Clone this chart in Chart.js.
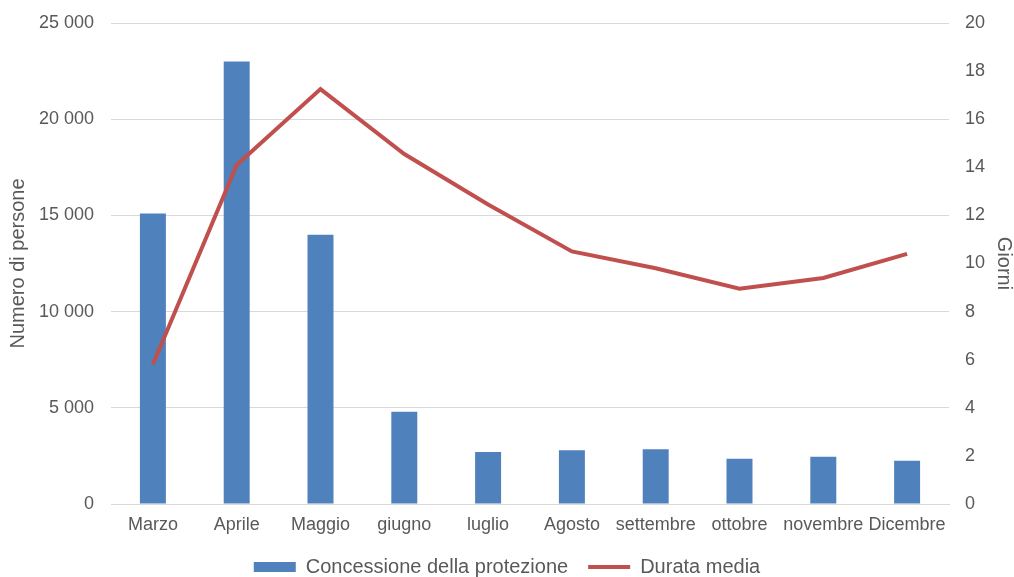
<!DOCTYPE html>
<html>
<head>
<meta charset="utf-8">
<script src="https://cdn.jsdelivr.net/npm/chart.js@4.4.0/dist/chart.umd.min.js"></script>
<style>
  html, body { margin: 0; padding: 0; background: #fff; }
  #wrap { width: 1014px; height: 577px; }
</style>
</head>
<body>
<div id="wrap"><canvas id="chart" width="1014" height="577"></canvas></div>
<script>
const months = ['Marzo', 'Aprile', 'Maggio', 'giugno', 'luglio', 'Agosto', 'settembre', 'ottobre', 'novembre', 'Dicembre'];
const persone = [15100, 23000, 14000, 4800, 2700, 2800, 2850, 2350, 2450, 2250];
const durata = [5.8, 14.1, 17.25, 14.55, 12.45, 10.5, 9.8, 8.95, 9.4, 10.4];

const grey = '#595959';
const font = 'Arial, "Liberation Sans", sans-serif';

function spaced(v) {
  return String(v).replace(/\B(?=(\d{3})+(?!\d))/g, ' ');
}

// vertical axes: fixed widths and top spacing like the original
function fixAxis(width) {
  return s => {
    s.width = width;
    s.paddingTop = 23;
    s.paddingBottom = 0;
  };
}

new Chart(document.getElementById('chart'), {
  data: {
    labels: months,
    datasets: [{
      type: 'line',
      label: 'Durata media',
      data: durata,
      yAxisID: 'y1',
      borderColor: '#C0504D',
      backgroundColor: '#C0504D',
      borderWidth: 4,
      pointRadius: 0,
      pointStyle: 'line',
      order: 0
    }, {
      type: 'bar',
      label: 'Concessione della protezione',
      data: persone,
      yAxisID: 'y',
      backgroundColor: '#4F81BD',
      borderWidth: 0,
      pointStyle: 'rect',
      categoryPercentage: 1,
      barPercentage: 0.31,
      order: 1
    }]
  },
  options: {
    responsive: false,
    animation: false,
    layout: { padding: { top: 0, left: 0, right: 0, bottom: -10 } },
    plugins: {
      legend: {
        position: 'bottom',
        reverse: true,
        labels: {
          usePointStyle: true,
          pointStyleWidth: 42,
          boxHeight: 10,
          color: grey,
          padding: 20,
          font: { family: font, size: 20 }
        }
      },
      tooltip: { enabled: false }
    },
    scales: {
      x: {
        grid: { display: false, drawTicks: false },
        border: { color: '#d9d9d9', width: 1 },
        ticks: { color: grey, font: { family: font, size: 18 }, padding: 10, maxRotation: 0, autoSkip: false },
        afterFit: s => { s.height = 33; }
      },
      y: {
        position: 'left',
        min: 0,
        max: 25000,
        grid: { color: '#d9d9d9', drawTicks: false },
        border: { display: false },
        ticks: {
          stepSize: 5000,
          color: grey,
          padding: 17,
          font: { family: font, size: 18 },
          callback: v => spaced(v)
        },
        title: {
          display: true, text: 'Numero di persone', color: grey,
          padding: { top: 8, bottom: 11 },
          font: { family: font, size: 20, lineHeight: 1 }
        },
        afterFit: fixAxis(111)
      },
      y1: {
        position: 'right',
        min: 0,
        max: 20,
        grid: { display: false, drawTicks: false },
        border: { display: false },
        ticks: { stepSize: 2, color: grey, padding: 16, font: { family: font, size: 18 } },
        title: {
          display: true, text: 'Giorni', color: grey,
          padding: { top: 0, bottom: 9 },
          font: { family: font, size: 20, lineHeight: 1 }
        },
        afterFit: fixAxis(65)
      }
    }
  }
});
</script>
</body>
</html>
